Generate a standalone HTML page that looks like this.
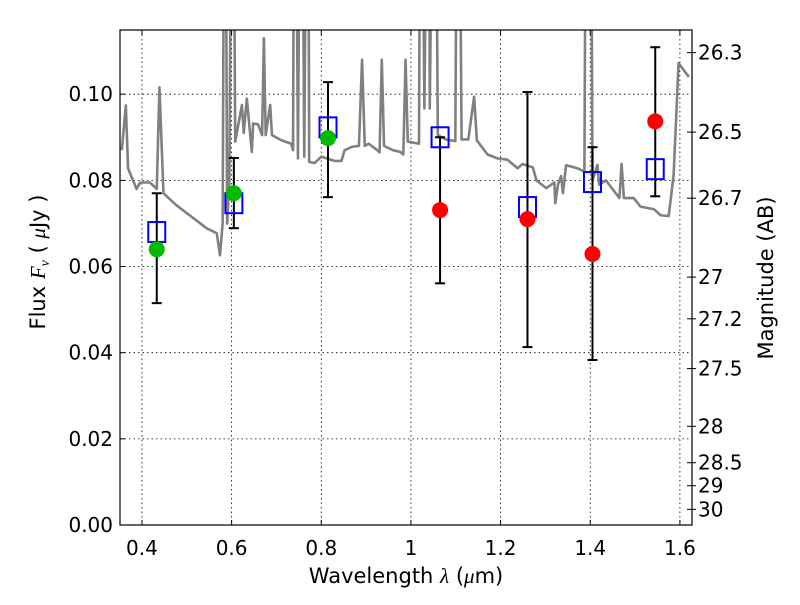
<!DOCTYPE html>
<html><head><meta charset="utf-8"><style>
body{margin:0;background:#fff;}
svg text{font-family:"DejaVu Sans","Liberation Sans",sans-serif;}
</style></head><body>
<svg id="chart" width="800" height="600" viewBox="0 0 800 600" xmlns="http://www.w3.org/2000/svg">
<g id="grid"></g>
<g id="spec"></g>
<g id="marks"></g>
<rect x="120" y="30" width="572" height="495" fill="none" stroke="#000" stroke-width="1.2"/>
<g id="axes"></g>
<text x="406" y="583" font-size="21" text-anchor="middle">Wavelength  <tspan font-family="Liberation Serif" font-style="italic">λ</tspan> (<tspan font-family="Liberation Serif" font-style="italic">μ</tspan>m)</text>
<text transform="translate(45,262) rotate(-90)" font-size="21" text-anchor="middle">Flux  <tspan font-family="Liberation Serif" font-style="italic">F<tspan font-size="14" dy="4">ν</tspan></tspan><tspan dy="-4">  ( </tspan><tspan font-family="Liberation Serif" font-style="italic">μ</tspan>Jy )</text>
<text transform="translate(773,278) rotate(-90)" font-size="21" text-anchor="middle">Magnitude (AB)</text>
</svg>
<script>
const specLam=[0.355,0.364,0.369,0.388,0.396,0.418,0.433,0.439,0.448,0.477,0.515,0.544,0.567,0.574,0.58,0.585,0.59,0.595,0.602,0.608,0.623,0.627,0.634,0.645,0.648,0.659,0.668,0.672,0.676,0.686,0.69,0.711,0.733,0.737,0.741,0.748,0.755,0.762,0.77,0.773,0.785,0.8,0.83,0.845,0.852,0.869,0.884,0.891,0.897,0.906,0.925,0.93,0.935,0.94,0.96,0.976,0.983,0.988,0.993,1.018,1.022,1.03,1.04,1.042,1.053,1.06,1.078,1.099,1.105,1.113,1.128,1.141,1.147,1.16,1.171,1.193,1.215,1.238,1.249,1.272,1.28,1.302,1.32,1.322,1.328,1.335,1.339,1.346,1.365,1.376,1.387,1.392,1.4,1.405,1.416,1.42,1.435,1.465,1.47,1.475,1.497,1.512,1.542,1.557,1.575,1.586,1.597,1.62];
const specFlux=[0.087,0.0974,0.0828,0.078,0.0795,0.0795,0.078,0.1016,0.077,0.0742,0.0712,0.0689,0.0677,0.0626,0.07,0.2,0.07,0.0797,0.2,0.089,0.0975,0.091,0.099,0.0866,0.0932,0.093,0.0905,0.113,0.0905,0.0975,0.0905,0.0893,0.0885,0.087,0.2,0.0851,0.2,0.0855,0.2,0.0843,0.084,0.0855,0.0845,0.0845,0.087,0.0878,0.088,0.108,0.088,0.0885,0.087,0.0865,0.108,0.088,0.087,0.0866,0.086,0.108,0.089,0.0885,0.2,0.0967,0.2,0.0967,0.2,0.0905,0.0895,0.0891,0.2,0.0895,0.0895,0.0994,0.0893,0.0875,0.086,0.0851,0.0848,0.0828,0.0838,0.083,0.08,0.0782,0.0795,0.0747,0.079,0.081,0.077,0.0835,0.083,0.0826,0.082,0.2,0.2,0.08,0.0836,0.079,0.08,0.0759,0.0838,0.0759,0.0759,0.0739,0.0733,0.0719,0.0717,0.0812,0.1072,0.104];
const bands=[0.433,0.605,0.815,1.065,1.26,1.405,1.545];
const modelFlux=[0.068,0.0747,0.0923,0.090,0.0738,0.0796,0.0826];
const obsFlux=[0.064,0.077,0.0898,0.0731,0.071,0.0629,0.0937];
const obsDetected=[true,true,true,false,false,false,false];
const errLow=[0.0515,0.0689,0.0761,0.0561,0.0413,0.0383,0.0763];
const errHigh=[0.077,0.0852,0.1028,0.090,0.1005,0.0877,0.1109];
const xTicks=[0.4,0.6,0.8,1.0,1.2,1.4,1.6];
const xTickLabels=["0.4","0.6","0.8","1","1.2","1.4","1.6"];
const yTicks=[0,0.02,0.04,0.06,0.08,0.1];
const yTickLabels=["0.00","0.02","0.04","0.06","0.08","0.10"];
const magTicks=[26.3,26.5,26.7,27,27.2,27.5,28,28.5,29,30];

const NS="http://www.w3.org/2000/svg";
const X0=120,X1=692,Y0=525,Y1=30,LMIN=0.351,LMAX=1.627,FMIN=0,FMAX=0.1149;
const sx=l=>X0+(l-LMIN)/(LMAX-LMIN)*(X1-X0);
const sy=f=>Y0-(f-FMIN)/(FMAX-FMIN)*(Y0-Y1);
function mk(tag,attrs,parent){const e=document.createElementNS(NS,tag);for(const k in attrs)e.setAttribute(k,attrs[k]);parent.appendChild(e);return e;}
const grid=document.getElementById('grid'),axes=document.getElementById('axes'),spec=document.getElementById('spec'),marks=document.getElementById('marks');

xTicks.forEach((t,i)=>{const x=sx(t);
 const g=mk('line',{x1:x,x2:x,y1:Y1,y2:Y0,stroke:'#000','stroke-width':0.8,'stroke-dasharray':'1.5,3'},grid);
 
 mk('line',{x1:x,x2:x,y1:Y0,y2:Y0-5,stroke:'#000'},axes);mk('line',{x1:x,x2:x,y1:Y1,y2:Y1+5,stroke:'#000'},axes);
 const tx=mk('text',{x:x,y:555,'font-size':20,'text-anchor':'middle'},axes);tx.textContent=xTickLabels[i];
 });
yTicks.forEach((t,i)=>{const y=sy(t);
 const g=mk('line',{x1:X0,x2:X1,y1:y,y2:y,stroke:'#000','stroke-width':0.8,'stroke-dasharray':'1.5,3'},grid);
 
 mk('line',{x1:X0,x2:X0+5,y1:y,y2:y,stroke:'#000'},axes);
 const tx=mk('text',{x:113,y:y+7,'font-size':20,'text-anchor':'end'},axes);tx.textContent=yTickLabels[i];
 });
magTicks.forEach(m=>{const y=sy(Math.pow(10,(23.9-m)/2.5));
 mk('line',{x1:X1-5,x2:X1+4,y1:y,y2:y,stroke:'#000'},axes);
 const tx=mk('text',{x:698,y:y+7,'font-size':20},axes);tx.textContent=String(m);
 });

const clip=mk('clipPath',{id:'pc'},document.getElementById('chart'));mk('rect',{x:X0,y:Y1,width:X1-X0,height:Y0-Y1},clip);
const pl=mk('polyline',{points:specLam.map((l,i)=>sx(l)+','+sy(specFlux[i])).join(' '),fill:'none',stroke:'#808080','stroke-width':2.6,'stroke-linejoin':'round','clip-path':'url(#pc)'},spec);


bands.forEach((l,i)=>{const x=sx(l);
 const eb=mk('g',{},marks);
 mk('line',{x1:x,x2:x,y1:sy(errLow[i]),y2:sy(errHigh[i]),stroke:'#000','stroke-width':2},eb);
 mk('line',{x1:x-5,x2:x+5,y1:sy(errLow[i]),y2:sy(errLow[i]),stroke:'#000','stroke-width':2},eb);
 mk('line',{x1:x-5,x2:x+5,y1:sy(errHigh[i]),y2:sy(errHigh[i]),stroke:'#000','stroke-width':2},eb);
 const sq=mk('rect',{x:x-8.5,y:sy(modelFlux[i])-10,width:17,height:20,fill:'none',stroke:'#0000ff','stroke-width':2},marks);
 
 const c=mk('circle',{cx:x,cy:sy(obsFlux[i]),r:8,fill:obsDetected[i]?'#00bb00':'#ff0000'},marks);
 });
</script>
</body></html>
